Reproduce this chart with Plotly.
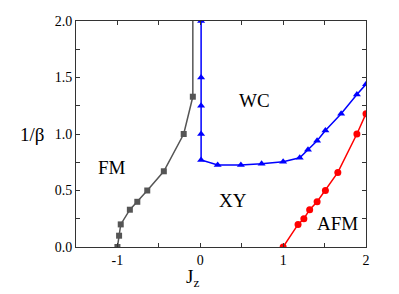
import plotly.graph_objects as go

# FM boundary (gray squares)
fm_x = [-1.0, -0.98, -0.96, -0.85, -0.76, -0.64, -0.44, -0.2, -0.09]
fm_y = [0.0, 0.1, 0.2, 0.33, 0.4, 0.5, 0.67, 1.0, 1.33]
fm_top_x = [-0.09, -0.09]
fm_top_y = [1.33, 2.0]

# WC boundary (blue triangles)
wc_x = [0.01, 0.01, 0.01, 0.01, 0.01, 0.21, 0.49, 0.74, 1.0, 1.2, 1.3, 1.41, 1.51, 1.7, 1.89, 2.0]
wc_y = [2.0, 1.5, 1.25, 1.0, 0.77, 0.725, 0.725, 0.737, 0.755, 0.79, 0.86, 0.94, 1.03, 1.18, 1.35, 1.44]

# AFM boundary (red circles)
afm_x = [1.0, 1.18, 1.25, 1.32, 1.41, 1.51, 1.66, 1.89, 2.0]
afm_y = [0.0, 0.2, 0.25, 0.33, 0.4, 0.5, 0.66, 1.0, 1.18]

phase_labels = ["WC", "FM", "XY", "AFM"]
phase_x = [0.66, -1.07, 0.4, 1.65]
phase_y = [1.3, 0.7, 0.41, 0.21]

gray = '#555555'
serif = 'Liberation Serif'

fig = go.Figure()

fig.add_trace(go.Scatter(x=fm_top_x, y=fm_top_y, mode='lines',
                         line=dict(color=gray, width=1.5), showlegend=False))
fig.add_trace(go.Scatter(x=fm_x, y=fm_y, mode='lines+markers',
                         line=dict(color=gray, width=1.5),
                         marker=dict(symbol='square', size=6, color=gray),
                         showlegend=False))
fig.add_trace(go.Scatter(x=wc_x, y=wc_y, mode='lines+markers',
                         line=dict(color='#0000ff', width=1.5),
                         marker=dict(symbol='triangle-up', size=7, color='#0000ff'),
                         showlegend=False))
fig.add_trace(go.Scatter(x=afm_x, y=afm_y, mode='lines+markers',
                         line=dict(color='#ff0000', width=1.5),
                         marker=dict(symbol='circle', size=7, color='#ff0000'),
                         showlegend=False))

for t, x, y in zip(phase_labels, phase_x, phase_y):
    fig.add_annotation(x=x, y=y, text=t, showarrow=False,
                       font=dict(family=serif, size=19, color='black'))

axis_common = dict(showgrid=False, zeroline=False, showline=True, linecolor='#333333',
                   linewidth=1, mirror='allticks', ticks='inside', ticklen=4,
                   tickcolor='#333333', ticklabeloverflow='allow',
                   tickfont=dict(family=serif, size=14, color='black'))

fig.update_xaxes(range=[-1.5, 2.0], tickvals=[-1.5, -1, -0.5, 0, 0.5, 1, 1.5, 2],
                 ticktext=['', '-1', '', '0', '', '1', '', '2'], **axis_common)
fig.update_yaxes(range=[0, 2.0], tickvals=[0, 0.25, 0.5, 0.75, 1.0, 1.25, 1.5, 1.75, 2.0],
                 ticktext=['0.0', '', '0.5', '', '1.0', '', '1.5', '', '2.0'], **axis_common)

fig.add_annotation(xref='paper', yref='paper', x=0.4, y=-0.2, showarrow=False,
                   text='J<sub>z</sub>', font=dict(family=serif, size=19, color='black'))
fig.add_annotation(xref='paper', yref='paper', x=-0.2, y=0.5, showarrow=False,
                   text='1/β', font=dict(family=serif, size=19, color='black'))

fig.update_layout(width=399, height=294, paper_bgcolor='white', plot_bgcolor='white',
                  font=dict(family=serif),
                  margin=dict(l=68, r=41, t=6, b=55))

fig.write_html("out.html")
